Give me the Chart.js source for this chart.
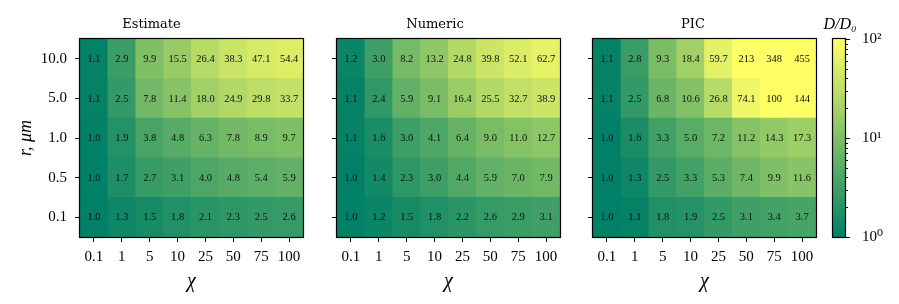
<!DOCTYPE html>
<html>
<head>
<meta charset="utf-8">
<script src="https://cdn.jsdelivr.net/npm/chart.js@4.4.1/dist/chart.umd.min.js"></script>
<style>
  body { margin: 0; background: #fff; }
  #wrap { position: relative; width: 899px; height: 304px; }
  canvas { position: absolute; top: 0; }
</style>
</head>
<body>
<div id="wrap">
  <canvas id="estimate" width="310" height="304" style="left:0px"></canvas>
  <canvas id="numeric" width="260" height="304" style="left:310px"></canvas>
  <canvas id="pic" width="255" height="304" style="left:570px"></canvas>
  <canvas id="cbar" width="84" height="304" style="left:815px"></canvas>
</div>
<script>
const chiLabels = ['0.1', '1', '5', '10', '25', '50', '75', '100'];
const rLabels = ['0.1', '0.5', '1.0', '5.0', '10.0']; // bottom row first

// D/D0, one row per r (bottom to top), one value per chi
const estimate = [
    [1.0, 1.3, 1.5, 1.8, 2.1, 2.3, 2.5, 2.6],
    [1.0, 1.7, 2.7, 3.1, 4.0, 4.8, 5.4, 5.9],
    [1.0, 1.9, 3.8, 4.8, 6.3, 7.8, 8.9, 9.7],
    [1.1, 2.5, 7.8, 11.4, 18.0, 24.9, 29.8, 33.7],
    [1.1, 2.9, 9.9, 15.5, 26.4, 38.3, 47.1, 54.4],
];
const numeric = [
    [1.0, 1.2, 1.5, 1.8, 2.2, 2.6, 2.9, 3.1],
    [1.0, 1.4, 2.3, 3.0, 4.4, 5.9, 7.0, 7.9],
    [1.1, 1.6, 3.0, 4.1, 6.4, 9.0, 11.0, 12.7],
    [1.1, 2.4, 5.9, 9.1, 16.4, 25.5, 32.7, 38.9],
    [1.2, 3.0, 8.2, 13.2, 24.8, 39.8, 52.1, 62.7],
];
const pic = [
    [1.0, 1.1, 1.8, 1.9, 2.5, 3.1, 3.4, 3.7],
    [1.0, 1.3, 2.5, 3.3, 5.3, 7.4, 9.9, 11.6],
    [1.0, 1.6, 3.3, 5.0, 7.2, 11.2, 14.3, 17.3],
    [1.1, 2.5, 6.8, 10.6, 26.8, 74.1, 100, 144],
    [1.1, 2.8, 9.3, 18.4, 59.7, 213, 348, 455],
];

const cbarTicks = [1, 2, 3, 4, 5, 6, 7, 8, 9, 10, 20, 30, 40, 50, 60, 70, 80, 90, 100];
const cbarMin = 1, cbarMax = 100;
const cbarLabel = 'D/D₀';

const numFont = "'Liberation Serif', 'DejaVu Serif', serif";
const titleFont = "'DejaVu Serif', serif";

// matplotlib "summer" on a log norm 1..100
function summer(t) {
    t = Math.min(Math.max(t, 0), 1);
    return `rgb(${Math.round(255 * t)}, ${Math.round(127.5 + 127.5 * t)}, 102)`;
}
function cellColor(v) {
    return summer(Math.log10(v / cbarMin) / Math.log10(cbarMax / cbarMin));
}
function fmt(v) {
    return v >= 100 ? v.toFixed(0) : v.toFixed(1);
}

const framePlugin = {
    id: 'frame',
    afterDraw(chart) {
        const { ctx, chartArea: a } = chart;
        ctx.save();
        ctx.strokeStyle = '#000';
        ctx.lineWidth = 1.2;
        ctx.strokeRect(a.left - 0.5, a.top - 0.5, a.right - a.left + 1, a.bottom - a.top + 1);
        ctx.restore();
    }
};

const cellTextPlugin = {
    id: 'cellText',
    afterDatasetsDraw(chart) {
        const ctx = chart.ctx;
        ctx.save();
        ctx.font = `10.5px ${numFont}`;
        ctx.fillStyle = '#111';
        ctx.textAlign = 'center';
        ctx.textBaseline = 'middle';
        chart.data.datasets.forEach((ds, i) => {
            chart.getDatasetMeta(i).data.forEach((bar, j) => {
                ctx.fillText(fmt(ds.cellValues[j]), bar.x, (bar.y + bar.base) / 2 + 0.5);
            });
        });
        ctx.restore();
    }
};

function heatmap(id, title, values, yWidth, rightPad, showY) {
    new Chart(id, {
        type: 'bar',
        data: {
            labels: chiLabels,
            datasets: values.map((row, i) => ({
                label: rLabels[i],
                data: row.map(() => 1), // each cell is one row tall
                cellValues: row,
                backgroundColor: row.map(cellColor),
                borderWidth: 0,
                barPercentage: 1,
                categoryPercentage: 1,
            }))
        },
        options: {
            responsive: false,
            animation: false,
            layout: { padding: { left: 0, right: rightPad, top: 0, bottom: 0 } },
            plugins: {
                legend: { display: false },
                tooltip: { enabled: false },
                title: {
                    display: true,
                    text: title,
                    color: '#000',
                    font: { family: titleFont, size: 13, weight: 'normal', lineHeight: 1.2 },
                    padding: { top: 16.5, bottom: 6.9 }
                }
            },
            scales: {
                x: {
                    stacked: true,
                    grid: { offset: false, drawOnChartArea: false, tickLength: 5, tickColor: '#000', tickWidth: 1 },
                    border: { display: false },
                    ticks: { color: '#000', font: { family: numFont, size: 15 }, padding: 6, maxRotation: 0, autoSkip: false },
                    title: {
                        display: true, text: 'χ', color: '#000',
                        font: { family: numFont, size: 20, style: 'italic' },
                        padding: { top: 0, bottom: 10 }
                    },
                    afterFit: s => { s.height = 67; }
                },
                y: {
                    stacked: true,
                    min: 0,
                    max: rLabels.length,
                    grid: { drawOnChartArea: false, tickLength: 5, tickColor: '#000', tickWidth: 1 },
                    border: { display: false },
                    afterBuildTicks: s => { s.ticks = rLabels.map((_, i) => ({ value: i + 0.5 })); },
                    ticks: {
                        display: showY,
                        color: '#000',
                        font: { family: numFont, size: 15 },
                        padding: 8,
                        callback: v => rLabels[Math.floor(v)]
                    },
                    title: {
                        display: showY, text: 'r, μm', color: '#000',
                        font: { family: numFont, size: 18, style: 'italic' },
                        padding: { top: 15, bottom: 0 }
                    },
                    afterFit: s => { s.width = yWidth; }
                }
            }
        },
        plugins: [cellTextPlugin, framePlugin]
    });
}

heatmap('estimate', 'Estimate', estimate, 80, 7, true);
heatmap('numeric', 'Numeric', numeric, 27, 10, false);
heatmap('pic', 'PIC', pic, 23, 9, false);

// colour bar: minor / major ticks on the right and the label on top
const cbarPlugin = {
    id: 'cbarTicks',
    afterDraw(chart) {
        const { ctx, chartArea: a } = chart;
        const s = chart.scales.y;
        ctx.save();
        ctx.strokeStyle = '#000';
        ctx.lineWidth = 1;
        cbarTicks.forEach(v => {
            const major = Math.log10(v) % 1 === 0;
            const y = Math.round(s.getPixelForValue(v)) + 0.5;
            ctx.beginPath();
            ctx.moveTo(a.right, y);
            ctx.lineTo(a.right + (major ? 5 : 3), y);
            ctx.stroke();
        });
        ctx.font = `italic 16px ${numFont}`;
        ctx.fillStyle = '#000';
        ctx.textAlign = 'center';
        ctx.textBaseline = 'middle';
        ctx.fillText(cbarLabel, (a.left + a.right) / 2 + 1, 25);
        ctx.restore();
    }
};

new Chart('cbar', {
    type: 'bar',
    data: {
        labels: [''],
        datasets: [{
            data: [[cbarMin, cbarMax]],
            borderWidth: 0,
            barPercentage: 1,
            categoryPercentage: 1,
            backgroundColor: c => {
                const a = c.chart.chartArea;
                if (!a) return summer(0.5);
                const g = c.chart.ctx.createLinearGradient(0, a.bottom, 0, a.top);
                g.addColorStop(0, summer(0));
                g.addColorStop(1, summer(1));
                return g;
            }
        }]
    },
    options: {
        responsive: false,
        animation: false,
        layout: { padding: { left: 18, right: 0, top: 39, bottom: 67 } },
        plugins: { legend: { display: false }, tooltip: { enabled: false } },
        scales: {
            x: { display: false },
            y: {
                type: 'logarithmic',
                position: 'right',
                min: cbarMin,
                max: cbarMax,
                grid: { drawOnChartArea: false, tickLength: 5, tickColor: 'rgba(0,0,0,0)' },
                border: { display: false },
                afterBuildTicks: s => { s.ticks = cbarTicks.map(v => ({ value: v })); },
                ticks: {
                    autoSkip: false,
                    color: '#000',
                    font: { family: numFont, size: 15 },
                    padding: 12,
                    callback: v => {
                        const e = Math.log10(v);
                        return e % 1 === 0 ? '10' + '⁰¹²'[e] : '';
                    }
                },
                afterFit: s => { s.width = 54; }
            }
        }
    },
    plugins: [framePlugin, cbarPlugin]
});
</script>
</body>
</html>
